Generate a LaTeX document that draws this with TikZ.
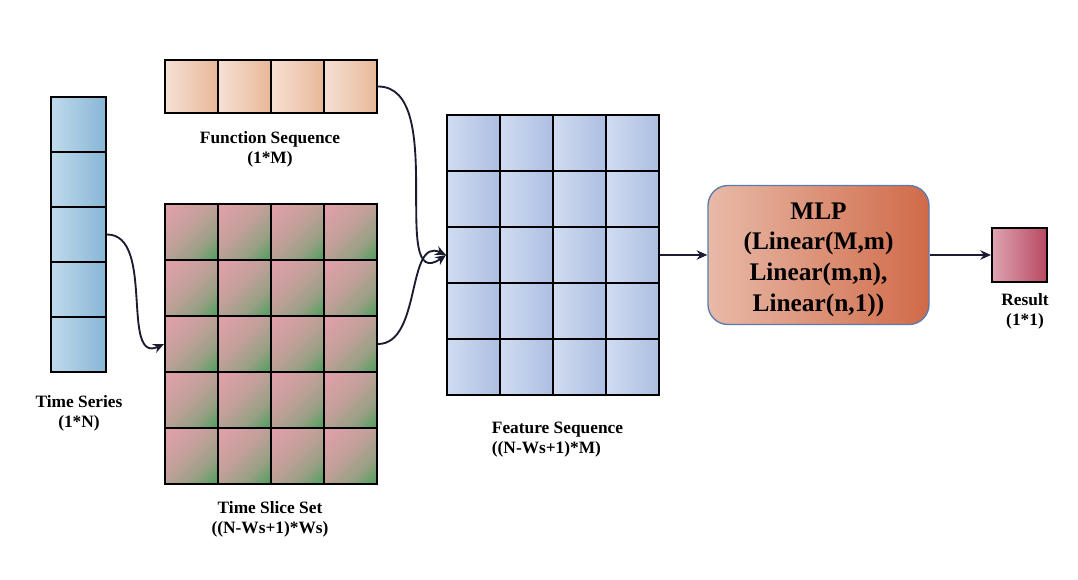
\documentclass[tikz,border=0pt]{standalone}
\usepackage{fontspec}
\setmainfont{Liberation Serif}
\usetikzlibrary{arrows.meta}

\definecolor{tsLeft}{RGB}{192,218,235}
\definecolor{tsRight}{RGB}{135,182,214}
\definecolor{fsLeft}{RGB}{246,224,212}
\definecolor{fsRight}{RGB}{232,184,152}
\definecolor{ftLeft}{RGB}{208,220,240}
\definecolor{ftRight}{RGB}{172,190,226}
\definecolor{slPink}{RGB}{226,160,170}
\definecolor{slGreen}{RGB}{72,160,90}
\definecolor{mlpLeft}{RGB}{232,186,168}
\definecolor{mlpRight}{RGB}{208,106,72}
\definecolor{mlpBorder}{RGB}{92,122,172}
\definecolor{resLeft}{RGB}{222,164,176}
\definecolor{resRight}{RGB}{184,72,98}
\definecolor{arrowc}{RGB}{28,28,48}

\pgfdeclareverticalshading{slshade}{100bp}{color(0bp)=(slGreen); color(14bp)=(slGreen);
  color(32bp)=(slPink!50!slGreen); color(55bp)=(slPink!80!slGreen); color(85bp)=(slPink); color(100bp)=(slPink)}

\tikzset{every picture/.style={line width=0.75pt}}
\tikzset{
  cellbox/.style={draw=black, line width=1.5pt, inner sep=0pt},
  tscell/.style={cellbox, minimum width=41.25pt, minimum height=41.25pt, left color=tsLeft, right color=tsRight},
  fscell/.style={cellbox, minimum width=39.75pt, minimum height=39.75pt, left color=fsLeft, right color=fsRight},
  slcell/.style={cellbox, minimum width=39.75pt, minimum height=42pt, shading=slshade, shading angle=45},
  ftcell/.style={cellbox, minimum width=39.75pt, minimum height=42pt, left color=ftLeft, right color=ftRight},
  lbl/.style={font=\bfseries\fontsize{13}{15}\selectfont, align=center},
  conn/.style={draw=arrowc, line width=1.4pt, -{Stealth[length=8pt,width=7pt]}}
}

\begin{document}
\begin{tikzpicture}[x=0.75pt,y=0.75pt,yscale=-1]
\useasboundingbox (0,0) rectangle (1078,580);

% Time Series column
\foreach \i in {1,...,5}
  \node[tscell] (ts-\i) at (78.5,{124.5+55*(\i-1)}) {};

% Function Sequence row
\foreach \j in {1,...,4}
  \node[fscell] (fs-\j) at ({191.5+53*(\j-1)},86.5) {};

% Time Slice Set grid
\foreach \i in {1,...,5}
  \foreach \j in {1,...,4}
    \node[slcell] (sl-\i-\j) at ({191.5+53*(\j-1)},{232+56*(\i-1)}) {};

% Feature Sequence grid
\foreach \i in {1,...,5}
  \foreach \j in {1,...,4}
    \node[ftcell] (ft-\i-\j) at ({473.5+53*(\j-1)},{143+56*(\i-1)}) {};

% MLP block
\node[draw=mlpBorder, line width=1pt, rounded corners=15pt, left color=mlpLeft, right color=mlpRight,
      minimum width=165.75pt, minimum height=104.25pt] (mlp) at (818.5,255) {};
\node[align=center, font=\bfseries\fontsize{19}{23}\selectfont] (mlpTxt) at ([yshift=3.5pt]mlp.center)
  {MLP\\(Linear(M,m)\\Linear(m,n),\\Linear(n,1))};

% Result
\node[cellbox, minimum width=41.25pt, minimum height=40.5pt, left color=resLeft, right color=resRight] (res) at (1019.5,255) {};

% Text Node
\node[lbl] (tsLbl) at (79,413) {Time Series\\(1*N)};
% Text Node
\node[lbl] (fsLbl) at (270,149) {Function Sequence\\(1*M)};
% Text Node
\node[lbl] (slLbl) at (270,519) {Time Slice Set\\((N-Ws+1)*Ws)};
% Text Node
\node[lbl, align=left, anchor=west] (ftLbl) at (487,440) {Feature Sequence\\((N-Ws+1)*M)};
% Text Node
\node[lbl] (resLbl) at (1025,311) {Result\\(1*1)};

% Connectors
\draw[conn] (ts-3.east) to[out=0,in=155] (sl-3-1.west);
\draw[conn] (fs-4.east) to[out=0,in=145] (ft-3-1.west);
\draw[conn] (sl-3-4.east) to[out=0,in=205] (ft-3-1.west);
\draw[conn] (ft-3-4.east) -- (mlp.west);
\draw[conn] (mlp.east) -- (res.west);

\end{tikzpicture}
\end{document}
